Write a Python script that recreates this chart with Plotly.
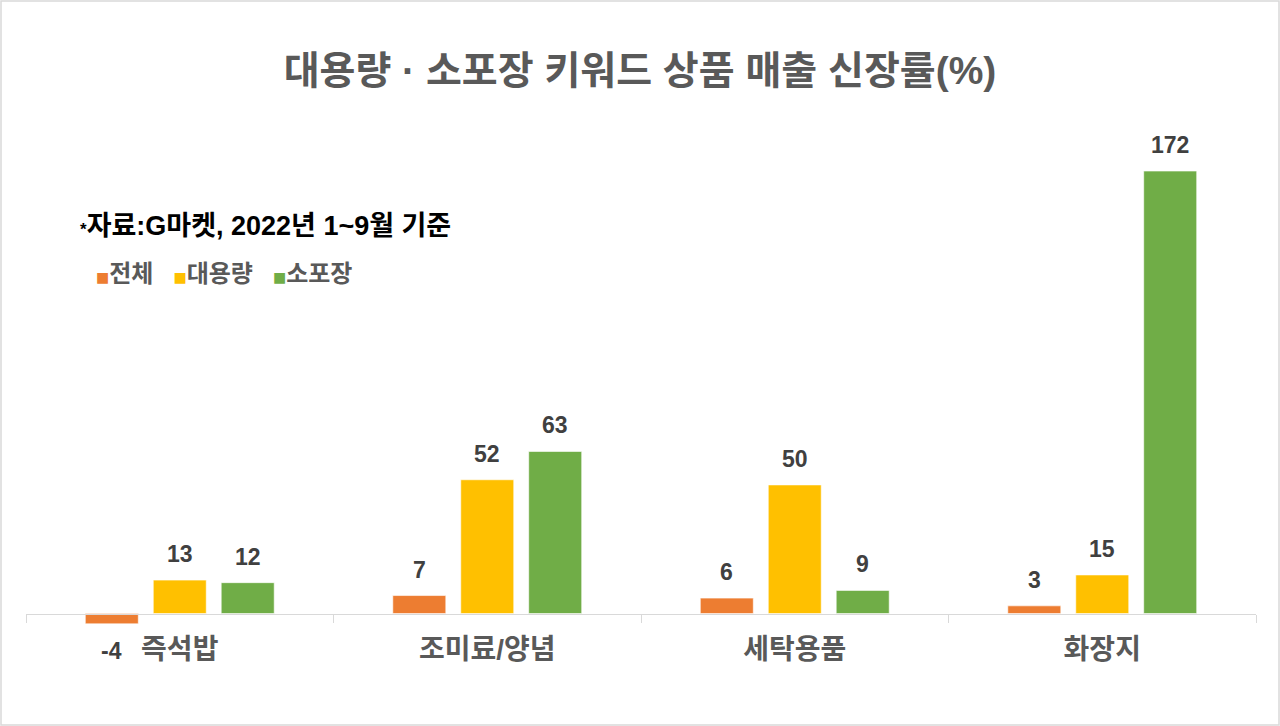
import plotly.graph_objects as go

categories = ["즉석밥", "조미료/양념", "세탁용품", "화장지"]
series_names = ["전체", "대용량", "소포장"]
total = [-4, 7, 6, 3]
bulk = [13, 52, 50, 15]
small = [12, 63, 9, 172]
colors = ["#ED7D31", "#FFC000", "#70AD47"]

W, H = 1280, 726
ml, mr, mt, mb = 26, 24, 99, 61
pw, ph = W - ml - mr, H - mt - mb
y_lo, y_hi = -20, 200
bargap = 0.337
bargroupgap = 0.22
FONT = "Liberation Sans, Noto Sans CJK KR"

fig = go.Figure()
for name, vals, c in zip(series_names, [total, bulk, small], colors):
    fig.add_trace(go.Bar(
        x=categories, y=vals, name=name,
        marker=dict(color=c, line=dict(color="rgba(255,255,255,0.6)", width=1)),
    ))

# data labels above / below each bar
pitch = (1 - bargap) / 3
annots = []
for j, vals in enumerate([total, bulk, small]):
    for i, v in enumerate(vals):
        annots.append(dict(
            x=i + (j - 1) * pitch, y=v, xref="x", yref="y",
            text=str(v), showarrow=False, yanchor="middle",
            yshift=26 if v >= 0 else -27,
            font=dict(size=23, color="#404040", family=FONT, weight="bold"),
        ))

annots.append(dict(
    x=(78 - ml) / pw, y=(H - mb - 226) / ph, xref="paper", yref="paper",
    xanchor="left", yanchor="middle", showarrow=False,
    text="<span style='font-size:17px'>*</span>자료:G마켓, 2022년 1~9월 기준",
    font=dict(size=27, color="#000000", family=FONT, weight="bold"),
))

# legend drawn as one line of text
legend_text = "&nbsp;&nbsp;&nbsp;".join(
    f"<span style='color:{c};font-family:DejaVu Sans;font-size:14px'>■</span>{n}"
    for n, c in zip(series_names, colors)
)
annots.append(dict(
    x=(94 - ml) / pw, y=(H - mb - 273) / ph, xref="paper", yref="paper",
    xanchor="left", yanchor="middle", showarrow=False,
    text=legend_text,
    font=dict(size=24, color="#595959", family=FONT, weight="bold"),
))

fig.update_layout(
    width=W, height=H,
    margin=dict(l=ml, r=mr, t=mt, b=mb),
    paper_bgcolor="white", plot_bgcolor="white",
    barmode="group", bargap=bargap, bargroupgap=bargroupgap,
    showlegend=False,
    title=dict(
        text="대용량 · 소포장 키워드 상품 매출 신장률(%)",
        x=0.5, xanchor="center", y=1 - 70 / H, yanchor="middle",
        font=dict(size=39, color="#595959", family=FONT, weight="bold"),
    ),
    annotations=annots,
    shapes=[dict(
        type="rect", xref="paper", yref="paper",
        x0=-(ml - 1) / pw, x1=1 + (mr - 1) / pw,
        y0=-(mb - 1) / ph, y1=1 + (mt - 1) / ph,
        line=dict(color="#D9D9D9", width=1.5), layer="below",
    )],
    font=dict(family=FONT),
)

fig.update_xaxes(
    anchor="free", position=(0 - y_lo) / (y_hi - y_lo),
    showline=True, linecolor="#D9D9D9", linewidth=1,
    ticks="outside", tickson="boundaries", ticklen=8, tickcolor="#D9D9D9",
    ticklabelstandoff=11,
    tickfont=dict(size=28, color="#595959", family=FONT, weight="bold"),
    showgrid=False,
)
fig.update_yaxes(range=[y_lo, y_hi], visible=False, showgrid=False, zeroline=False)

fig.write_html("out.html", config={"displayModeBar": False},
               post_script="document.body.style.margin='0';")
